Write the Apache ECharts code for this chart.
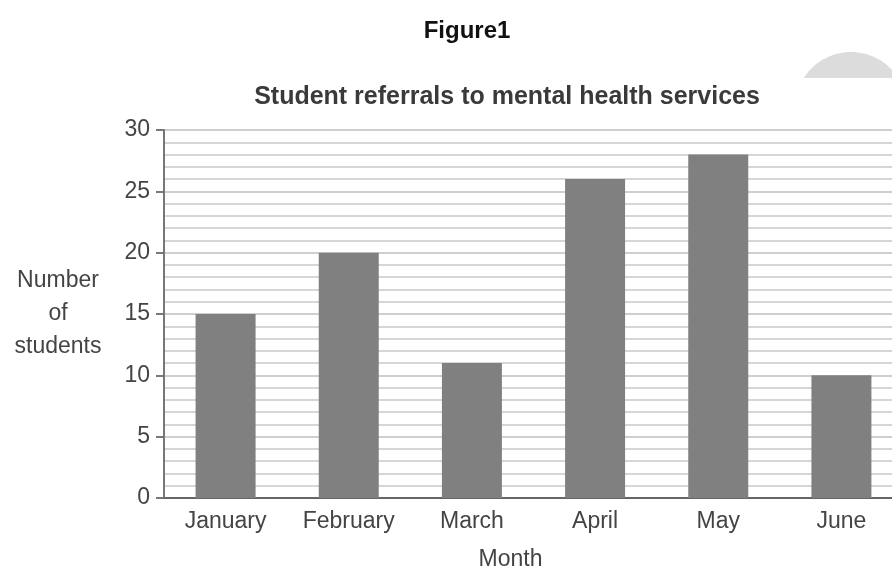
<!DOCTYPE html>
<html><head><meta charset="utf-8">
<script src="https://cdn.jsdelivr.net/npm/echarts@6/dist/echarts.min.js"></script>
<style>html,body{margin:0;padding:0;background:#fff}#c{width:892px;height:575px}</style>
</head><body><div id="c"></div>
<script>
const months = ["January","February","March","April","May","June"];
const referrals = [15, 20, 11, 26, 28, 10];
const yTicks = [0, 5, 10, 15, 20, 25, 30];

// decorative clipped disc in the top-right corner
function discCap(cx, cy, r, cutY) {
  const pts = [];
  const a0 = Math.asin((cy - cutY) / r);
  const steps = 40;
  for (let i = 0; i <= steps; i++) {
    const a = Math.PI - a0 - (Math.PI - 2 * a0) * i / steps;
    pts.push([cx + r * Math.cos(a), cy - r * Math.sin(a)]);
  }
  return pts;
}

const chart = echarts.init(document.getElementById('c'));
chart.setOption({
  backgroundColor: '#fff',
  animation: false,
  title: [
    {text: 'Figure1', left: 462, top: 14, textAlign: 'center',
     textStyle: {fontFamily: 'Liberation Sans', fontWeight: 'bold', fontSize: 24, color: '#111'}},
    {text: 'Student referrals to mental health services', left: 502, top: 80, textAlign: 'center',
     textStyle: {fontFamily: 'Liberation Sans', fontWeight: 'bold', fontSize: 25, color: '#3a3a3a'}}
  ],
  graphic: [
    {type: 'polygon', shape: {points: discCap(851, 108, 56, 78)}, style: {fill: '#dcdcdc'}, z: 1}
  ],
  grid: {left: 164, top: 130, bottom: 77, width: 739, containLabel: false, outerBoundsMode: 'none'},
  xAxis: {
    type: 'category', data: months,
    name: 'Month', nameLocation: 'middle', nameGap: 50,
    nameTextStyle: {fontFamily: 'Liberation Sans', fontSize: 23, color: '#444', padding: [0, 46, 0, 0]},
    axisLine: {lineStyle: {color: '#666', width: 2}},
    axisTick: {show: false},
    axisLabel: {fontFamily: 'Liberation Sans', fontSize: 23, color: '#444', margin: 12}
  },
  yAxis: {
    type: 'value', min: yTicks[0], max: yTicks[yTicks.length-1], interval: 5,
    name: 'Number\nof\nstudents', nameLocation: 'middle', nameRotate: 0, nameGap: 106,
    nameTextStyle: {fontFamily: 'Liberation Sans', fontSize: 23, color: '#444', align: 'center', lineHeight: 33},
    axisLine: {show: true, lineStyle: {color: '#777', width: 2}},
    axisTick: {show: true, length: 8, lineStyle: {color: '#777', width: 2}},
    axisLabel: {fontFamily: 'Liberation Sans', fontSize: 23, color: '#444', margin: 14},
    splitLine: {show: true, lineStyle: {color: '#cfcfcf', width: 2}},
    minorTick: {show: false, splitNumber: 5},
    minorSplitLine: {show: true, lineStyle: {color: '#d6d6d6', width: 2}}
  },
  series: [{
    type: 'bar', data: referrals, barWidth: 60,
    itemStyle: {color: '#808080'}
  }]
});
</script></body></html>
